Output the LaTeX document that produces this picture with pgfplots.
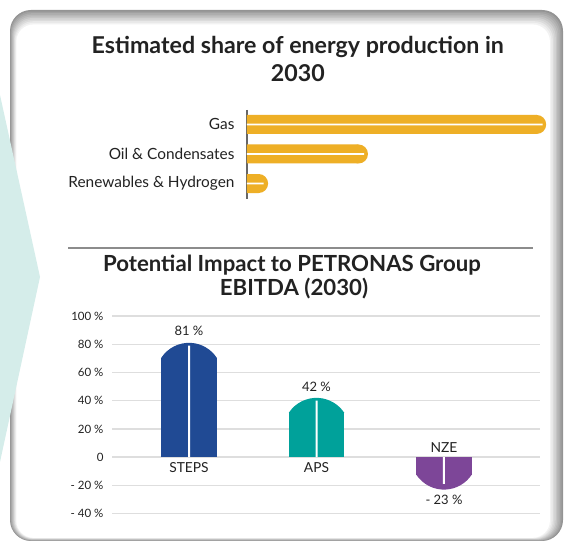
\documentclass[border=0pt]{standalone}
\usepackage{pgfplots}
\pgfplotsset{compat=1.18}
\usepackage{fontspec}
\setmainfont{Lato}
\definecolor{gold}{HTML}{EEAF26}
\definecolor{stepsc}{HTML}{204A94}
\definecolor{apsc}{HTML}{00A19A}
\definecolor{nzec}{HTML}{7D4698}
\definecolor{tealbg}{HTML}{D5EDEA}
\definecolor{txt}{HTML}{222222}
\definecolor{gridc}{HTML}{DEDEDE}
% rounded caps of the columns (15pt high, 55.5pt wide)
\pgfdeclareplotmark{capup}{%
  \pgfpathmoveto{\pgfpoint{-27.75pt}{-15pt}}%
  \pgfpatharc{146.74}{33.26}{33.2pt}%
  \pgfpathclose\pgfusepathqfill}
\pgfdeclareplotmark{capdown}{%
  \pgfpathmoveto{\pgfpoint{-27.75pt}{15pt}}%
  \pgfpatharc{-146.74}{-33.26}{33.2pt}%
  \pgfpathclose\pgfusepathqfill}
% round end of the horizontal bars
\pgfdeclareplotmark{disk}{%
  \pgfpathcircle{\pgfpointorigin}{9.5pt}\pgfusepathqfill}
\begin{document}
\begin{tikzpicture}[x=1pt,y=1pt]
\useasboundingbox (0,0) rectangle (566,541);
% card with soft inner shadow
\foreach \k in {0,...,9}{%
  \pgfmathtruncatemacro\c{42-4.6*\k}%
  \pgfmathsetmacro\r{21-0.4*\k}%
  \fill[black!\c, rounded corners=\r] (10+0.7*\k, 0.35*\k) rectangle (563-1.45*\k, 531-1.6*\k);
}
\fill[white, rounded corners=17] (17,3.5) rectangle (548.5,515);
% teal chevron
\fill[tealbg] (0,446) -- (40,264) -- (0,79) -- cycle;
% titles
\node[font=\fontsize{23.2}{25}\selectfont\bfseries, text=txt, anchor=base, inner sep=0] at (297.8,487.3) {Estimated share of energy production in};
\node[font=\fontsize{23.2}{25}\selectfont\bfseries, text=txt, anchor=base, inner sep=0] at (297.8,459.4) {2030};
\draw[black!45, line width=1.5pt] (68,293) -- (533,293);
\node[font=\fontsize{22.2}{25}\selectfont\bfseries, text=txt, anchor=base, inner sep=0] at (292,269.3) {Potential Impact to PETRONAS Group};
\node[font=\fontsize{22.2}{25}\selectfont\bfseries, text=txt, anchor=base, inner sep=0] at (294,245) {EBITDA (2030)};

% ---- top chart
\begin{axis}[at={(247pt,431pt)}, anchor=north west, scale only axis,
  width=308pt, height=89pt, xmin=0, xmax=70, ymin=-0.49, ymax=2.525,
  y dir=reverse, hide x axis, axis y line*=left,
  y axis line style={draw=black!60, line width=1.2pt},
  ytick={0,1,2}, yticklabels={Gas, Oil \& Condensates, Renewables \& Hydrogen},
  major tick length=0,
  yticklabel style={font=\fontsize{15.4}{17}\selectfont, text=txt, xshift=-9pt},
  clip=false, clip marker paths=true]
\addplot[xbar, bar width=19pt, bar shift=0pt, fill=gold, draw=none]
  coordinates {(65.84,0) (25.34,1) (2.64,2)};
\addplot[only marks, mark=disk, mark options={fill=gold}]
  coordinates {(65.84,0) (25.34,1) (2.64,2)};
\addplot[xbar, bar width=1.8pt, bar shift=0pt, fill=white, draw=none]
  coordinates {(67.2,0) (26.6,1) (3.8,2)};
\end{axis}

% ---- bottom chart
\begin{axis}[at={(112pt,27.4pt)}, anchor=south west, scale only axis,
  width=428pt, height=197.6pt, xmin=-0.604, xmax=2.753, ymin=-40, ymax=100,
  ytick={-40,-20,0,20,40,60,80,100},
  yticklabels={- 40 \%, - 20 \%, 0, 20 \%, 40 \%, 60 \%, 80 \%, 100 \%},
  xtick=\empty, ymajorgrids, grid style={draw=gridc, line width=1.3pt},
  axis line style={draw=none}, major tick length=0,
  yticklabel style={font=\fontsize{11.5}{13}\selectfont, text=txt, xshift=-5pt},
  clip=false, clip marker paths=true]
% STEPS
\addplot[ybar, bar width=55.5pt, bar shift=0pt, fill=stepsc, draw=none] coordinates {(0,70.4)};
\addplot[only marks, mark=capup, mark options={fill=stepsc},
  nodes near coords, point meta=explicit symbolic,
  every node near coord/.style={anchor=base, inner sep=0, yshift=7pt, font=\fontsize{13}{15}\selectfont, text=txt}]
  coordinates {(0,81) [81 \%]};
% APS
\addplot[ybar, bar width=55.5pt, bar shift=0pt, fill=apsc, draw=none] coordinates {(1,31.4)};
\addplot[only marks, mark=capup, mark options={fill=apsc},
  nodes near coords, point meta=explicit symbolic,
  every node near coord/.style={anchor=base, inner sep=0, yshift=6.5pt, font=\fontsize{13}{15}\selectfont, text=txt}]
  coordinates {(1,42) [42 \%]};
% NZE
\addplot[ybar, bar width=55.5pt, bar shift=0pt, fill=nzec, draw=none] coordinates {(2,-12.4)};
\addplot[only marks, mark=capdown, mark options={fill=nzec},
  nodes near coords, point meta=explicit symbolic,
  every node near coord/.style={anchor=base, inner sep=0, yshift=-15pt, font=\fontsize{13}{15}\selectfont, text=txt}]
  coordinates {(2,-23) [- 23 \%]};
% white centre lines
\addplot[ybar, bar width=2pt, bar shift=0pt, fill=white, draw=none]
  coordinates {(0,79) (1,40) (2,-19)};
% category names
\node[anchor=base, inner sep=0, font=\fontsize{13.8}{15}\selectfont, text=txt, yshift=-15.7pt] at (axis cs:0,0) {STEPS};
\node[anchor=base, inner sep=0, font=\fontsize{13.8}{15}\selectfont, text=txt, yshift=-15.7pt] at (axis cs:1,0) {APS};
\node[anchor=base, inner sep=0, font=\fontsize{13.8}{15}\selectfont, text=txt, yshift=4.3pt] at (axis cs:2,0) {NZE};
\end{axis}
\end{tikzpicture}
\end{document}
